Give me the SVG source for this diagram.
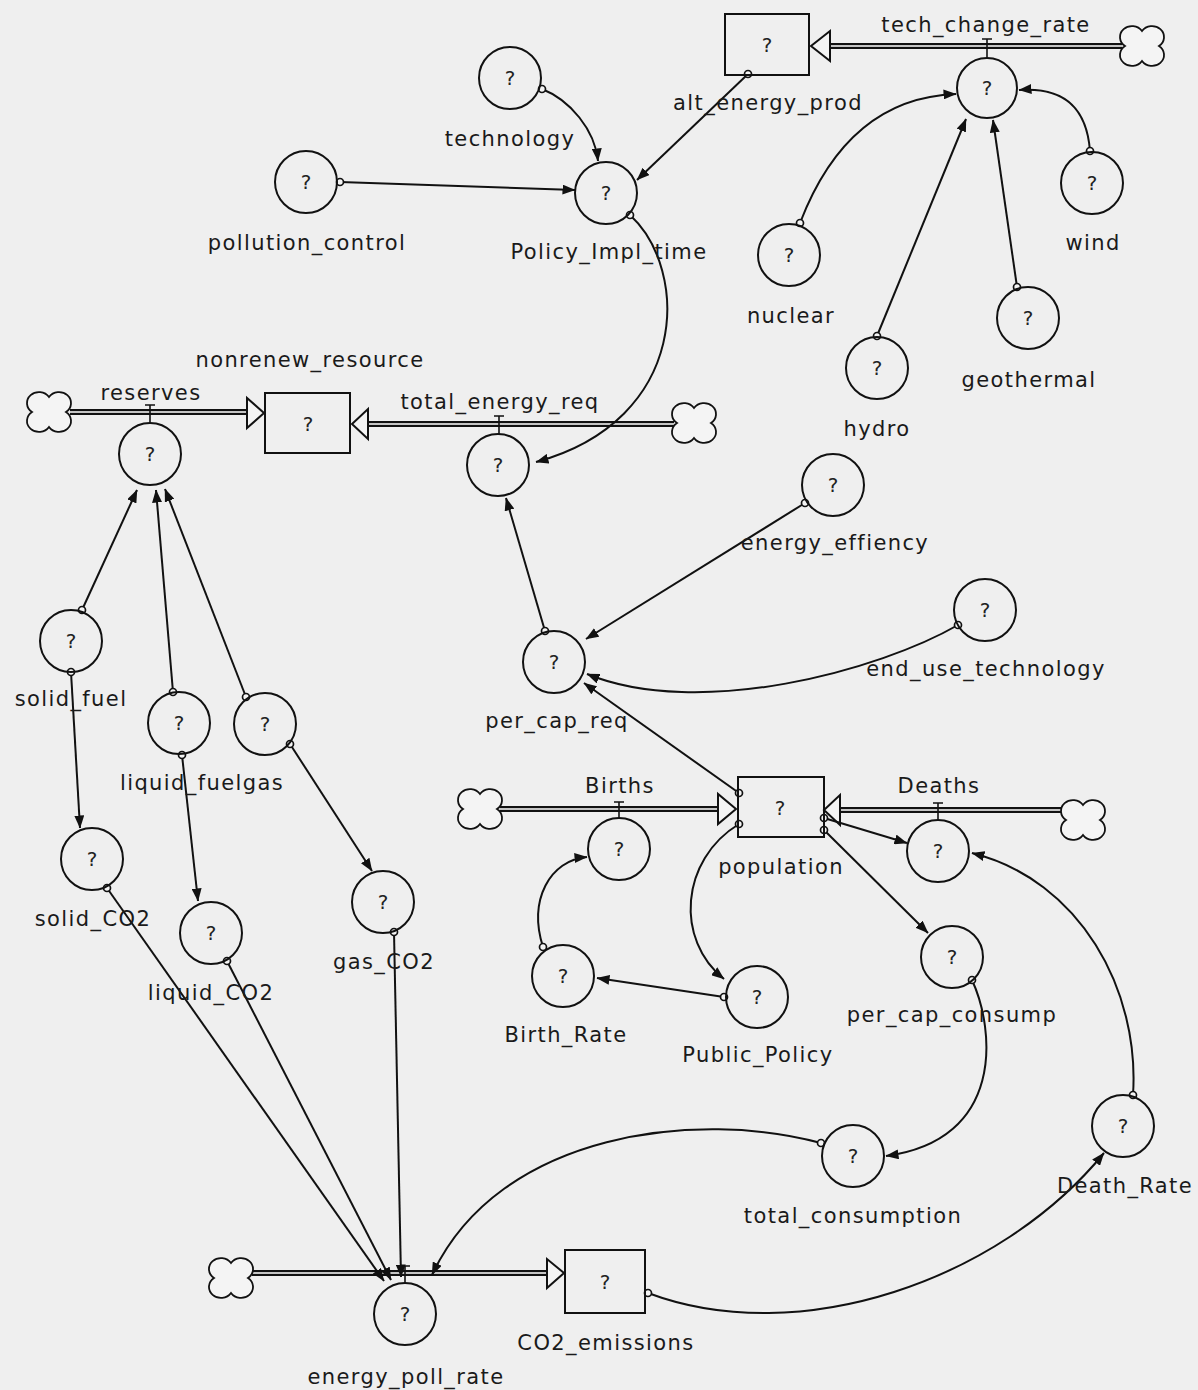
<svg xmlns="http://www.w3.org/2000/svg" width="1198" height="1390" viewBox="0 0 1198 1390">
  <style>
    .bg { fill: #efefef; }
    .aux { fill: none; stroke: #111; stroke-width: 2; }
    .stock { fill: none; stroke: #111; stroke-width: 2; }
    .q { font-family: "DejaVu Sans", "Liberation Sans", sans-serif; font-size: 20px; fill: #222; text-anchor: middle; }
    .lbl { font-family: "DejaVu Sans", "Liberation Sans", sans-serif; font-size: 21px; letter-spacing: 1.4px; fill: #1a1a1a; text-anchor: middle; }
    .link { fill: none; stroke: #111; stroke-width: 2; marker-end: url(#tip); }
    .org { fill: #f4f4f4; stroke: #111; stroke-width: 1.7; }
    .pipe-out { fill: none; stroke: #111; stroke-width: 6; }
    .pipe-in { fill: none; stroke: #c4c4c4; stroke-width: 2; }
    .head { fill: #f4f4f4; stroke: #111; stroke-width: 2; stroke-linejoin: miter; }
    .valve { fill: none; stroke: #111; stroke-width: 1.6; }
    .cloud { fill: #f4f4f4; stroke: #111; stroke-width: 1.8; }
  </style>
  <defs>
    <marker id="tip" viewBox="0 0 13 10" refX="12.5" refY="5" markerWidth="13" markerHeight="10" markerUnits="userSpaceOnUse" orient="auto">
      <path d="M0,0 L13,5 L0,10 Z" fill="#111"/>
    </marker>
    <!-- four-lobed source/sink cloud, centred on the origin -->
    <path id="cloud" class="cloud" d="M0,-15 A12 11 0 1 1 17,0 A12 11 0 1 1 0,15 A12 11 0 1 1 -17,0 A12 11 0 1 1 0,-15 Z"/>
  </defs>

  <rect class="bg" x="0" y="0" width="1198" height="1390"/>

  <!-- flow pipes with clouds, valves and hollow heads -->
  <g id="flows">
    <!-- tech_change_rate -->
    <line class="pipe-out" x1="1122" y1="46" x2="829" y2="46"/>
    <line class="pipe-in" x1="1122" y1="46" x2="829" y2="46"/>
    <polygon class="head" points="830,31 830,61 811,46"/>
    <use href="#cloud" x="1142" y="46"/>
    <!-- reserves -->
    <line class="pipe-out" x1="70" y1="412" x2="248" y2="412"/>
    <line class="pipe-in" x1="70" y1="412" x2="248" y2="412"/>
    <polygon class="head" points="247,398 247,428 264,413"/>
    <use href="#cloud" x="49" y="412"/>
    <!-- total_energy_req -->
    <line class="pipe-out" x1="674" y1="424" x2="367" y2="424"/>
    <line class="pipe-in" x1="674" y1="424" x2="367" y2="424"/>
    <polygon class="head" points="368,409 368,439 352,424"/>
    <use href="#cloud" x="694" y="423"/>
    <!-- Births -->
    <line class="pipe-out" x1="500" y1="809" x2="719" y2="809"/>
    <line class="pipe-in" x1="500" y1="809" x2="719" y2="809"/>
    <polygon class="head" points="718,794 718,824 736,809"/>
    <use href="#cloud" x="480" y="809"/>
    <!-- Deaths -->
    <line class="pipe-out" x1="1064" y1="810" x2="839" y2="810"/>
    <line class="pipe-in" x1="1064" y1="810" x2="839" y2="810"/>
    <polygon class="head" points="840,795 840,825 824,810"/>
    <use href="#cloud" x="1083" y="820"/>
    <!-- energy_poll_rate -->
    <line class="pipe-out" x1="252" y1="1273" x2="548" y2="1273"/>
    <line class="pipe-in" x1="252" y1="1273" x2="548" y2="1273"/>
    <polygon class="head" points="547,1259 547,1288 564,1273"/>
    <use href="#cloud" x="231" y="1278"/>

    <!-- valves -->
    <path class="valve" d="M987,39 V58 M982,39 H992"/>
    <path class="valve" d="M150,405 V423 M145,405 H155"/>
    <path class="valve" d="M499,416 V434 M494,416 H504"/>
    <path class="valve" d="M619,802 V818 M614,802 H624"/>
    <path class="valve" d="M938,803 V820 M933,803 H943"/>
    <path class="valve" d="M405,1266 V1283 M400,1266 H410"/>
  </g>

  <!-- information connectors -->
  <g id="connectors">
    <path class="link" d="M542,89 C570,100 595,130 598,161"/>
    <path class="link" d="M340,182 L575,190"/>
    <path class="link" d="M748,74 L637,180"/>
    <path class="link" d="M630,215 C690,270 690,420 536,462"/>
    <path class="link" d="M800,223 Q848,98 956,94"/>
    <path class="link" d="M877,336 L966,119"/>
    <path class="link" d="M1017,287 L993,120"/>
    <path class="link" d="M1090,151 Q1085,85 1019,90"/>
    <path class="link" d="M82,610 L137,490"/>
    <path class="link" d="M173,692 L156,490"/>
    <path class="link" d="M246,697 L165,489"/>
    <path class="link" d="M71,672 L80,828"/>
    <path class="link" d="M182,755 L198,901"/>
    <path class="link" d="M290,744 L372,871"/>
    <path class="link" d="M107,888 L384,1281"/>
    <path class="link" d="M227,961 L391,1280"/>
    <path class="link" d="M394,932 L401,1277"/>
    <path class="link" d="M545,631 L506,498"/>
    <path class="link" d="M805,503 L586,639"/>
    <path class="link" d="M958,625 C880,670 700,720 587,674"/>
    <path class="link" d="M739,793 L584,683"/>
    <path class="link" d="M543,947 C528,900 550,860 587,857"/>
    <path class="link" d="M724,997 L597,978"/>
    <path class="link" d="M739,824 C680,860 675,940 724,979"/>
    <path class="link" d="M824,818 L907,843"/>
    <path class="link" d="M824,830 L928,933"/>
    <path class="link" d="M1133,1095 C1140,990 1080,880 972,853"/>
    <path class="link" d="M972,980 C995,1030 1005,1140 886,1156"/>
    <path class="link" d="M821,1143 C700,1110 500,1130 432,1275"/>
    <path class="link" d="M648,1293 C800,1350 1000,1280 1104,1153"/>

    <!-- connector origins -->
    <circle class="org" cx="542" cy="89" r="3.5"/>
    <circle class="org" cx="340" cy="182" r="3.5"/>
    <circle class="org" cx="748" cy="74" r="3.5"/>
    <circle class="org" cx="630" cy="215" r="3.5"/>
    <circle class="org" cx="800" cy="223" r="3.5"/>
    <circle class="org" cx="877" cy="336" r="3.5"/>
    <circle class="org" cx="1017" cy="287" r="3.5"/>
    <circle class="org" cx="1090" cy="151" r="3.5"/>
    <circle class="org" cx="82" cy="610" r="3.5"/>
    <circle class="org" cx="173" cy="692" r="3.5"/>
    <circle class="org" cx="246" cy="697" r="3.5"/>
    <circle class="org" cx="71" cy="672" r="3.5"/>
    <circle class="org" cx="182" cy="755" r="3.5"/>
    <circle class="org" cx="290" cy="744" r="3.5"/>
    <circle class="org" cx="107" cy="888" r="3.5"/>
    <circle class="org" cx="227" cy="961" r="3.5"/>
    <circle class="org" cx="394" cy="932" r="3.5"/>
    <circle class="org" cx="545" cy="631" r="3.5"/>
    <circle class="org" cx="805" cy="503" r="3.5"/>
    <circle class="org" cx="958" cy="625" r="3.5"/>
    <circle class="org" cx="739" cy="793" r="3.5"/>
    <circle class="org" cx="543" cy="947" r="3.5"/>
    <circle class="org" cx="724" cy="997" r="3.5"/>
    <circle class="org" cx="739" cy="824" r="3.5"/>
    <circle class="org" cx="824" cy="818" r="3.5"/>
    <circle class="org" cx="824" cy="830" r="3.5"/>
    <circle class="org" cx="1133" cy="1095" r="3.5"/>
    <circle class="org" cx="972" cy="980" r="3.5"/>
    <circle class="org" cx="821" cy="1143" r="3.5"/>
    <circle class="org" cx="648" cy="1293" r="3.5"/>
  </g>

  <!-- stocks -->
  <g id="alt_energy_prod"><rect class="stock" x="725" y="14" width="84" height="61"/><text class="q" x="767" y="52">?</text><text class="lbl" x="768" y="110">alt_energy_prod</text></g>
  <g id="nonrenew_resource"><rect class="stock" x="265" y="393" width="85" height="60"/><text class="q" x="308" y="431">?</text><text class="lbl" x="310" y="367">nonrenew_resource</text></g>
  <g id="population"><rect class="stock" x="738" y="777" width="86" height="60"/><text class="q" x="780" y="815">?</text><text class="lbl" x="781" y="874">population</text></g>
  <g id="CO2_emissions"><rect class="stock" x="565" y="1250" width="80" height="63"/><text class="q" x="605" y="1289">?</text><text class="lbl" x="606" y="1350">CO2_emissions</text></g>

  <!-- converters and flow rates -->
  <g id="technology"><circle class="aux" cx="510" cy="78" r="31"/><text class="q" x="510" y="85">?</text><text class="lbl" x="510" y="146">technology</text></g>
  <g id="Policy_Impl_time"><circle class="aux" cx="606" cy="193" r="31"/><text class="q" x="606" y="200">?</text><text class="lbl" x="609" y="259">Policy_Impl_time</text></g>
  <g id="pollution_control"><circle class="aux" cx="306" cy="182" r="31"/><text class="q" x="306" y="189">?</text><text class="lbl" x="307" y="250">pollution_control</text></g>
  <g id="tech_change_rate"><circle class="aux" cx="987" cy="88" r="30"/><text class="q" x="987" y="95">?</text><text class="lbl" x="986" y="32">tech_change_rate</text></g>
  <g id="nuclear"><circle class="aux" cx="789" cy="255" r="31"/><text class="q" x="789" y="262">?</text><text class="lbl" x="791" y="323">nuclear</text></g>
  <g id="wind"><circle class="aux" cx="1092" cy="183" r="31"/><text class="q" x="1092" y="190">?</text><text class="lbl" x="1093" y="250">wind</text></g>
  <g id="hydro"><circle class="aux" cx="877" cy="368" r="31"/><text class="q" x="877" y="375">?</text><text class="lbl" x="877" y="436">hydro</text></g>
  <g id="geothermal"><circle class="aux" cx="1028" cy="318" r="31"/><text class="q" x="1028" y="325">?</text><text class="lbl" x="1029" y="387">geothermal</text></g>
  <g id="reserves"><circle class="aux" cx="150" cy="454" r="31"/><text class="q" x="150" y="461">?</text><text class="lbl" x="151" y="400">reserves</text></g>
  <g id="total_energy_req"><circle class="aux" cx="498" cy="465" r="31"/><text class="q" x="498" y="472">?</text><text class="lbl" x="500" y="409">total_energy_req</text></g>
  <g id="energy_effiency"><circle class="aux" cx="833" cy="485" r="31"/><text class="q" x="833" y="492">?</text><text class="lbl" x="835" y="550">energy_effiency</text></g>
  <g id="end_use_technology"><circle class="aux" cx="985" cy="610" r="31"/><text class="q" x="985" y="617">?</text><text class="lbl" x="986" y="676">end_use_technology</text></g>
  <g id="per_cap_req"><circle class="aux" cx="554" cy="662" r="31"/><text class="q" x="554" y="669">?</text><text class="lbl" x="557" y="728">per_cap_req</text></g>
  <g id="solid_fuel"><circle class="aux" cx="71" cy="641" r="31"/><text class="q" x="71" y="648">?</text><text class="lbl" x="71" y="706">solid_fuel</text></g>
  <g id="liquid_fuelgas"><circle class="aux" cx="179" cy="723" r="31"/><text class="q" x="179" y="730">?</text><text class="lbl" x="202" y="790">liquid_fuelgas</text></g>
  <g id="gas_fuel"><circle class="aux" cx="265" cy="724" r="31"/><text class="q" x="265" y="731">?</text></g>
  <g id="solid_CO2"><circle class="aux" cx="92" cy="859" r="31"/><text class="q" x="92" y="866">?</text><text class="lbl" x="93" y="926">solid_CO2</text></g>
  <g id="liquid_CO2"><circle class="aux" cx="211" cy="933" r="31"/><text class="q" x="211" y="940">?</text><text class="lbl" x="211" y="1000">liquid_CO2</text></g>
  <g id="gas_CO2"><circle class="aux" cx="383" cy="902" r="31"/><text class="q" x="383" y="909">?</text><text class="lbl" x="384" y="969">gas_CO2</text></g>
  <g id="Births"><circle class="aux" cx="619" cy="849" r="31"/><text class="q" x="619" y="856">?</text><text class="lbl" x="620" y="793">Births</text></g>
  <g id="Deaths"><circle class="aux" cx="938" cy="851" r="31"/><text class="q" x="938" y="858">?</text><text class="lbl" x="939" y="793">Deaths</text></g>
  <g id="Birth_Rate"><circle class="aux" cx="563" cy="976" r="31"/><text class="q" x="563" y="983">?</text><text class="lbl" x="566" y="1042">Birth_Rate</text></g>
  <g id="Public_Policy"><circle class="aux" cx="757" cy="997" r="31"/><text class="q" x="757" y="1004">?</text><text class="lbl" x="758" y="1062">Public_Policy</text></g>
  <g id="per_cap_consump"><circle class="aux" cx="952" cy="957" r="31"/><text class="q" x="952" y="964">?</text><text class="lbl" x="952" y="1022">per_cap_consump</text></g>
  <g id="total_consumption"><circle class="aux" cx="853" cy="1156" r="31"/><text class="q" x="853" y="1163">?</text><text class="lbl" x="853" y="1223">total_consumption</text></g>
  <g id="Death_Rate"><circle class="aux" cx="1123" cy="1126" r="31"/><text class="q" x="1123" y="1133">?</text><text class="lbl" x="1125" y="1193">Death_Rate</text></g>
  <g id="energy_poll_rate"><circle class="aux" cx="405" cy="1314" r="31"/><text class="q" x="405" y="1321">?</text><text class="lbl" x="406" y="1384">energy_poll_rate</text></g>
</svg>
